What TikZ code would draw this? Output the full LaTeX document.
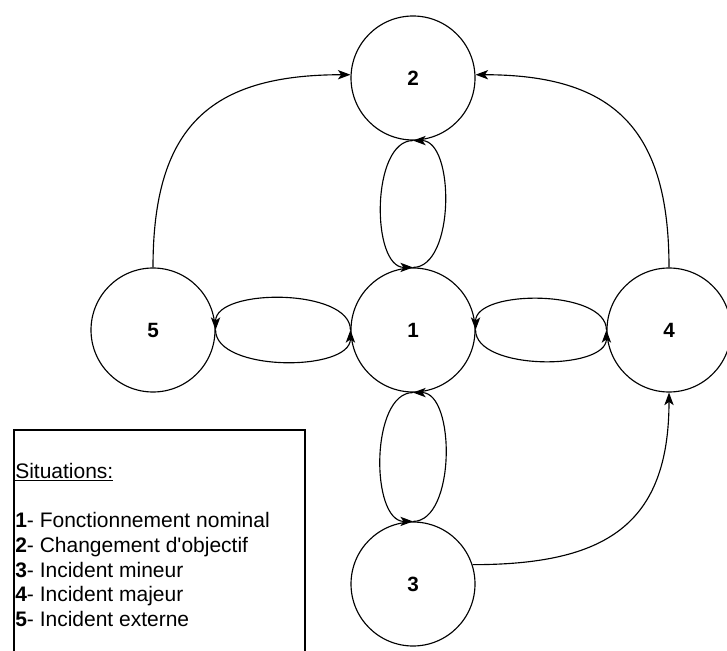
\documentclass[tikz,border=0pt]{standalone}
\usepackage{fontspec}
\setmainfont{Liberation Sans}
\usetikzlibrary{arrows.meta}

\begin{document}
\begin{tikzpicture}[x=0.75pt, y=0.75pt,
        situation/.style={circle, draw, line width=0.85pt, minimum size=93pt, inner sep=0pt,
            font=\fontsize{15.5}{18}\selectfont\bfseries},
        trans/.style={-{Stealth[length=9.5pt, width=7pt, inset=2.5pt]}, line width=0.85pt}]
        \useasboundingbox (0,0) rectangle (727,650);

        \node[situation] (s1) at (413,320) {1};
        \node[situation] (s2) at (413,572) {2};
        \node[situation] (s3) at (413,66) {3};
        \node[situation] (s4) at (669,320) {4};
        \node[situation] (s5) at (153,320) {5};

        % long arcs
        \draw[trans] (s5.north) to[out=90, in=180, looseness=1.3] (s2.177);
        \draw[trans] (s4.north) to[out=90, in=0, looseness=1.3] (s2.3);
        \draw[trans] (s3.18) to[out=0, in=-90, looseness=1.3] (s4.south);

        % loops round 1
        \draw[trans] (s2.south) to[out=180, in=180, looseness=0.85] (s1.north);
        \draw[trans] (s1.north) to[out=0, in=0, looseness=0.85] (s2.south);
        \draw[trans] (s1.south) to[out=180, in=180, looseness=0.85] (s3.north);
        \draw[trans] (s3.north) to[out=0, in=0, looseness=0.85] (s1.south);
        \draw[trans] (s1.west) to[out=90, in=90, looseness=0.8] (s5.east);
        \draw[trans] (s5.east) to[out=-90, in=-90, looseness=0.8] (s1.west);
        \draw[trans] (s4.west) to[out=90, in=90, looseness=0.8] (s1.east);
        \draw[trans] (s1.east) to[out=-90, in=-90, looseness=0.8] (s4.west);

        % legend
        \draw[line width=0.85pt] (14,220) rectangle (305,-20);
        \node[anchor=north west, inner sep=0pt, align=left,
            font=\fontsize{15.75}{18.5}\selectfont] (legend) at (15,187)
            {\underline{Situations:}\\[18.5pt]
             \textbf{1}- Fonctionnement nominal\\
             \textbf{2}- Changement d\textquotesingle objectif\\
             \textbf{3}- Incident mineur\\
             \textbf{4}- Incident majeur\\
             \textbf{5}- Incident externe};
    \end{tikzpicture}
\end{document}
